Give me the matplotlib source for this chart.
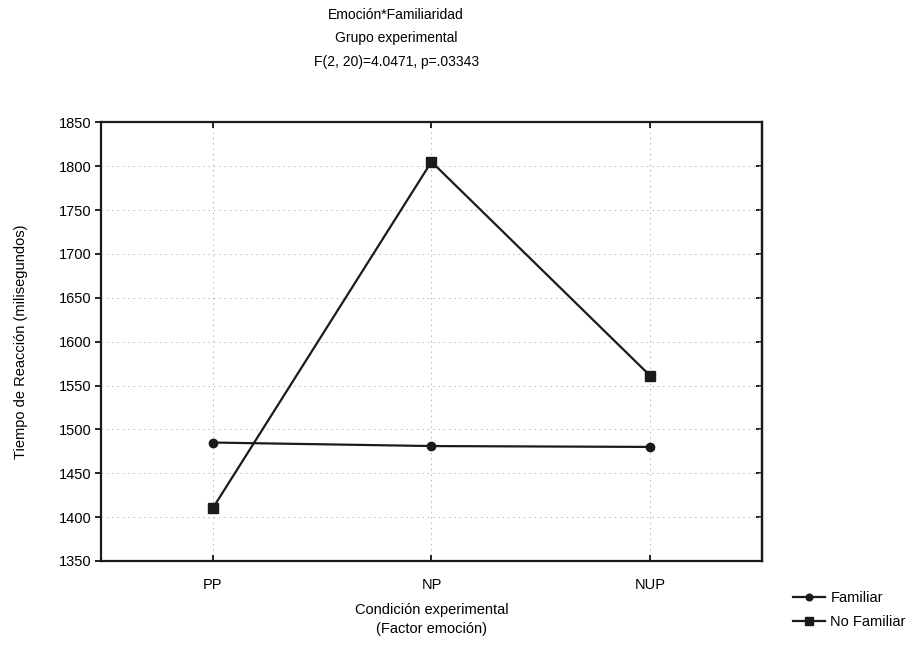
import matplotlib.pyplot as plt

plt.rcParams['font.family'] = ['Liberation Sans', 'DejaVu Sans']

categories = ["PP", "NP", "NUP"]
familiar = [1485, 1481, 1480]
no_familiar = [1410, 1805, 1561]
yticks = list(range(1350, 1851, 50))

fig = plt.figure(figsize=(9.19, 6.49), dpi=100)
ax = fig.add_axes([0.110, 0.1356, 0.719, 0.676])

x = list(range(len(categories)))
ax.plot(x, familiar, marker='o', linestyle='-', color="#1a1a1a", lw=1.6,
        markersize=6, label="Familiar")
ax.plot(x, no_familiar, marker='s', linestyle='-', color="#1a1a1a", lw=1.6,
        markersize=6.5, label="No Familiar")

ax.set_xlim(-0.51, 2.51)
ax.set_ylim(1350, 1850)
ax.set_xticks(x)
ax.set_xticklabels(categories, fontsize=10.5)
ax.set_yticks(yticks)
ax.set_yticklabels([str(v) for v in yticks], fontsize=10.5)
ax.tick_params(axis='y', direction='out', length=4, width=1.2, pad=3)
ax.tick_params(axis='x', direction='in', length=4, width=1.2, top=True, pad=12)
ax.grid(True, linestyle=(0, (1.5, 4)), color="#b5b5b5", lw=0.7)
for s in ax.spines.values():
    s.set_linewidth(1.6)
    s.set_color("#1a1a1a")

right = ax.secondary_yaxis('right')
right.set_yticks(yticks)
right.tick_params(direction='in', length=4, width=1.2, labelright=False)
right.spines['right'].set_linewidth(1.6)

ax.set_ylabel("Tiempo de Reacción (milisegundos)", fontsize=10.5, labelpad=22)
ax.set_xlabel("Condición experimental\n(Factor emoción)", fontsize=10.5,
              labelpad=8, linespacing=1.5)

fig.text(0.431, 0.977, "Emoción*Familiaridad", ha='center', va='center', fontsize=10)
fig.text(0.431, 0.941, "Grupo experimental", ha='center', va='center', fontsize=10)
fig.text(0.431, 0.904, "F(2, 20)=4.0471, p=.03343", ha='center', va='center', fontsize=10)

fig.legend(loc='lower right', bbox_to_anchor=(1.0, 0.01), frameon=False,
           fontsize=10.5, handlelength=2.2, handletextpad=0.4,
           labelspacing=0.7, markerscale=0.8)

plt.savefig("out.png", dpi=100)
